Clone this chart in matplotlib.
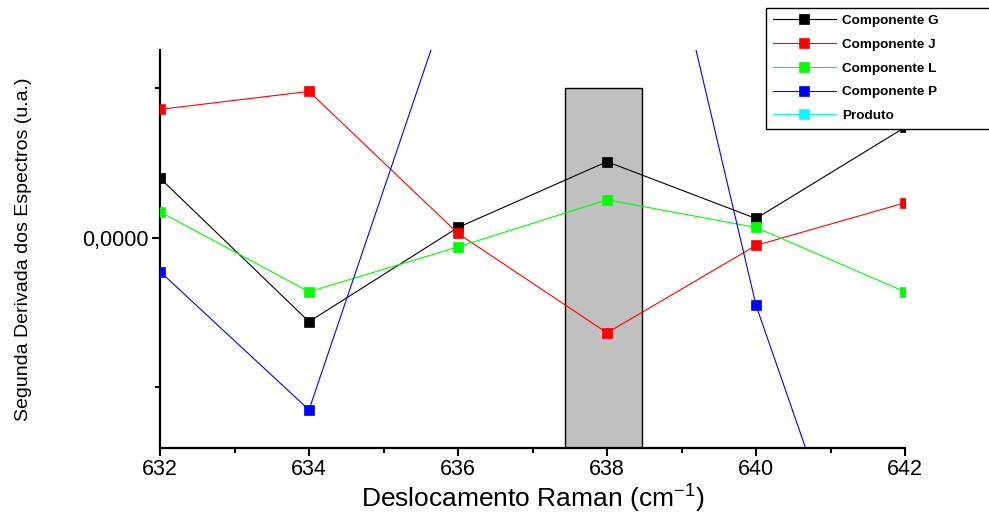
import matplotlib
matplotlib.use("Agg")
import matplotlib.pyplot as plt

plt.rcParams['font.family'] = ['Liberation Sans', 'DejaVu Sans']
plt.rcParams['mathtext.fontset'] = 'custom'
plt.rcParams['mathtext.rm'] = 'Liberation Sans'

# Raman shift (cm-1)
shift = [632, 634, 636, 638, 640, 642]

# second derivative, arbitrary units (tick spacing = 1)
comp_g = [0.40, -0.56, 0.07, 0.51, 0.13, 0.74]
comp_j = [0.86, 0.98, 0.03, -0.635, -0.05, 0.235]
comp_l = [0.175, -0.36, -0.06, 0.255, 0.07, -0.36]
comp_p = [-0.225, -1.15, 1.79, 3.79, -0.45, -3.32]
produto = []  # not visible in the plotted range

series = [
    ("Componente G", comp_g, "#000000"),
    ("Componente J", comp_j, "#ff0000"),
    ("Componente L", comp_l, "#00ff00"),
    ("Componente P", comp_p, "#0000ff"),
    ("Produto", produto, "#00ffff"),
]

# highlighted band around 638
band_center = 637.95
band_width = 1.04
band_top = 1.0

fig = plt.figure(figsize=(9.89, 5.15), dpi=100)
ax = fig.add_axes([160 / 989, 1 - 448 / 515, 745 / 989, 398 / 515])

ymin, ymax = -1.405, 1.257
ax.bar(band_center, band_top - ymin, width=band_width, bottom=ymin,
       color="#c0c0c0", edgecolor="black", linewidth=1.0, zorder=1)

for name, vals, col in series:
    ax.plot(shift[:len(vals)], vals, color=col, lw=0.8, marker="s", ms=7.5,
            mfc=col, mec=col, mew=0.5, label=name, zorder=3)

ax.set_xlim(632, 642)
ax.set_ylim(ymin, ymax)
ax.set_xticks([632, 634, 636, 638, 640, 642])
ax.set_xticks([633, 635, 637, 639, 641], minor=True)
ax.set_yticks([0])
ax.set_yticklabels(["0,0000"])
ax.set_yticks([-1, 1], minor=True)

for side in ("top", "right"):
    ax.spines[side].set_visible(False)
for side in ("left", "bottom"):
    ax.spines[side].set_linewidth(1.6)

ax.tick_params(which="major", direction="out", length=6, width=1.5, labelsize=15.5, pad=2)
ax.tick_params(which="minor", direction="out", length=3.5, width=1.5)

ax.set_xlabel("Deslocamento Raman (cm$^{\\mathregular{-1}}$)", fontsize=19, labelpad=1)
ax.set_ylabel("Segunda Derivada dos Espectros (u.a.)", fontsize=14, labelpad=36)

leg = ax.legend(loc="upper left", bbox_to_anchor=(766 / 989, 0.5, 0.4, 1 - 8 / 515 - 0.5),
                bbox_transform=fig.transFigure, mode="expand", borderaxespad=0,
                prop={"weight": "bold", "size": 9.7}, handlelength=4.7,
                handletextpad=0.45, labelspacing=0.84, borderpad=0.5,
                fancybox=False, framealpha=1, edgecolor="black")
leg.get_frame().set_linewidth(1.0)

fig.savefig("out.png", dpi=100)
